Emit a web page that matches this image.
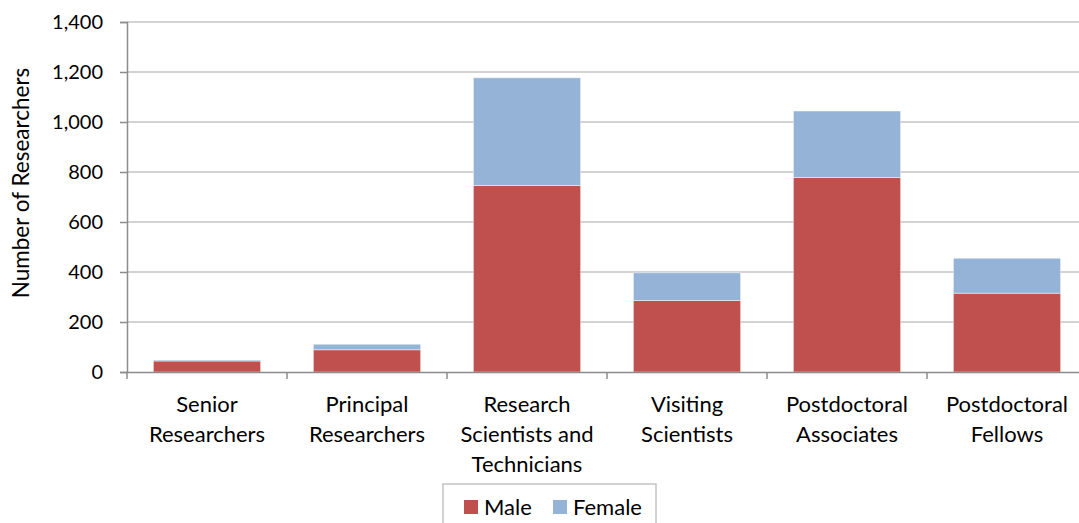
<!DOCTYPE html>
<html lang="en">
  <head>
    <meta charset="UTF-8" />
    <title>Researchers by position and gender</title>
    <style>
      html,
      body {
        margin: 0;
        background: #fff;
      }
      svg {
        display: block;
        font-family: Lato, "Liberation Sans", sans-serif;
      }
    </style>
    <script src="https://cdn.jsdelivr.net/npm/d3@7"></script>
  </head>
  <body>
    <script>
      const categories = [
        ["Senior", "Researchers"],
        ["Principal", "Researchers"],
        ["Research", "Scientists and", "Technicians"],
        ["Visiting", "Scientists"],
        ["Postdoctoral", "Associates"],
        ["Postdoctoral", "Fellows"],
      ];
      const male = [44, 89, 746, 286, 778, 315];
      const female = [4, 22, 431, 111, 266, 140];
      const seriesNames = ["Male", "Female"];
      const yTicks = [0, 200, 400, 600, 800, 1000, 1200, 1400];

      const width = 1079;
      const height = 523;
      const margin = { top: 22, right: -8, bottom: 151, left: 127 };
      const colors = ["#C0504D", "#95B3D7"];

      const svg = d3
        .select(document.body)
        .append("svg")
        .attr("width", width)
        .attr("height", height);

      const rows = categories.map((c, i) => ({
        key: i,
        Male: male[i],
        Female: female[i],
      }));

      const x = d3
        .scaleBand()
        .domain(d3.range(categories.length))
        .range([margin.left, width - margin.right])
        .paddingInner(0.33)
        .paddingOuter(0.165);

      const y = d3
        .scaleLinear()
        .domain([0, 1400])
        .range([height - margin.bottom, margin.top]);

      // gridlines
      svg
        .append("g")
        .selectAll("line")
        .data(yTicks.slice(1))
        .join("line")
        .attr("x1", margin.left)
        .attr("x2", width)
        .attr("y1", (d) => y(d))
        .attr("y2", (d) => y(d))
        .attr("stroke", "#c4c4c4")
        .attr("stroke-width", 1.5);

      const stack = d3.stack().keys(seriesNames)(rows);

      svg
        .append("g")
        .selectAll("g")
        .data(stack)
        .join("g")
        .attr("fill", (d, i) => colors[i])
        .selectAll("rect")
        .data((d) => d)
        .join("rect")
        .attr("x", (d) => x(d.data.key))
        .attr("width", x.bandwidth())
        .attr("y", (d) => y(d[1]))
        .attr("height", (d) => y(d[0]) - y(d[1]))
        .attr("stroke", "#ffffff")
        .attr("stroke-opacity", 0.45)
        .attr("stroke-width", 1);

      // y axis
      const yAxis = svg
        .append("g")
        .attr("transform", `translate(${margin.left},0)`)
        .call(
          d3
            .axisLeft(y)
            .tickValues(yTicks)
            .tickSize(7)
            .tickPadding(17)
            .tickFormat(d3.format(","))
        );
      yAxis.select(".domain").attr("stroke", "#8c8c8c").attr("stroke-width", 1.5);
      yAxis.selectAll(".tick line").attr("stroke", "#8c8c8c").attr("stroke-width", 1.5);
      yAxis
        .selectAll(".tick text")
        .attr("font-size", 20)
        .attr("fill", "#000")
        .attr("font-family", "Lato, sans-serif");

      // x axis
      const xAxis = svg
        .append("g")
        .attr("transform", `translate(0,${y(0)})`)
        .call(
          d3
            .axisBottom(x)
            .tickSize(0)
            .tickFormat(() => "")
        );
      xAxis.select(".domain").attr("stroke", "#8c8c8c").attr("stroke-width", 1.5);

      svg
        .append("g")
        .selectAll("line")
        .data(d3.range(categories.length + 1))
        .join("line")
        .attr("x1", (i) => margin.left + i * x.step())
        .attr("x2", (i) => margin.left + i * x.step())
        .attr("y1", y(0))
        .attr("y2", y(0) + 7)
        .attr("stroke", "#8c8c8c")
        .attr("stroke-width", 1.5);

      svg
        .append("g")
        .attr("font-size", 22)
        .attr("text-anchor", "middle")
        .selectAll("text")
        .data(categories)
        .join("text")
        .attr("x", (d, i) => x(i) + x.bandwidth() / 2)
        .attr("y", y(0) + 40)
        .selectAll("tspan")
        .data((d) => d)
        .join("tspan")
        .attr("x", function () {
          return this.parentNode.getAttribute("x");
        })
        .attr("dy", (d, i) => (i === 0 ? 0 : 30))
        .text((d) => d);

      // y title
      svg
        .append("text")
        .attr("transform", `translate(29,${(margin.top + y(0)) / 2 - 14}) rotate(-90)`)
        .attr("text-anchor", "middle")
        .attr("font-size", 22.5)
        .text("Number of Researchers");

      // legend
      const legend = svg.append("g");
      legend
        .append("rect")
        .attr("x", 443)
        .attr("y", 484)
        .attr("width", 213)
        .attr("height", 50)
        .attr("fill", "none")
        .attr("stroke", "#c4c4c4")
        .attr("stroke-width", 1.5);

      const items = legend
        .selectAll("g")
        .data(seriesNames)
        .join("g")
        .attr("transform", (d, i) => `translate(${[464, 553][i]},500)`);
      items
        .append("rect")
        .attr("width", 14)
        .attr("height", 14)
        .attr("fill", (d, i) => colors[i]);
      items
        .append("text")
        .attr("x", 20)
        .attr("y", 14.5)
        .attr("font-size", 22)
        .text((d) => d);
    </script>
  </body>
</html>
